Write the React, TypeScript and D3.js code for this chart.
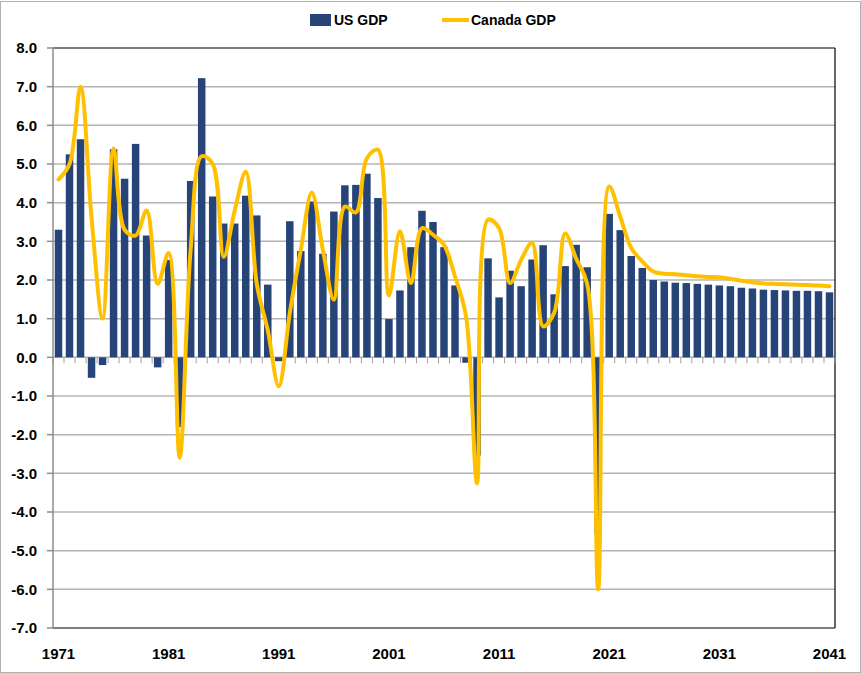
import React from "react";
import * as d3 from "d3";

// categories (years) and series
const years = [
  1971, 1972, 1973, 1974, 1975, 1976, 1977, 1978, 1979, 1980,
  1981, 1982, 1983, 1984, 1985, 1986, 1987, 1988, 1989, 1990,
  1991, 1992, 1993, 1994, 1995, 1996, 1997, 1998, 1999, 2000,
  2001, 2002, 2003, 2004, 2005, 2006, 2007, 2008, 2009, 2010,
  2011, 2012, 2013, 2014, 2015, 2016, 2017, 2018, 2019, 2020,
  2021, 2022, 2023, 2024, 2025, 2026, 2027, 2028, 2029, 2030,
  2031, 2032, 2033, 2034, 2035, 2036, 2037, 2038, 2039, 2040, 2041,
];

const usGdp = [
  3.3, 5.25, 5.64, -0.53, -0.2, 5.38, 4.62, 5.52, 3.15, -0.26,
  2.52, -1.8, 4.56, 7.22, 4.16, 3.46, 3.46, 4.18, 3.67, 1.88,
  -0.1, 3.52, 2.75, 4.03, 2.68, 3.77, 4.45, 4.46, 4.75, 4.12,
  0.99, 1.73, 2.85, 3.79, 3.5, 2.85, 1.86, -0.14, -2.54, 2.56,
  1.55, 2.24, 1.84, 2.53, 2.9, 1.63, 2.36, 2.91, 2.33, -4.58,
  3.71, 3.29, 2.62, 2.31, 2.0, 1.96, 1.93, 1.92, 1.9, 1.88,
  1.86, 1.84, 1.8, 1.78, 1.75, 1.74, 1.73, 1.72, 1.72, 1.71, 1.68,
];

const canadaGdp = [
  4.6, 5.0, 7.0, 3.6, 1.0, 5.4, 3.3, 3.15, 3.8, 1.9,
  2.7, -2.6, 2.8, 5.2, 5.0, 2.6, 3.8, 4.8, 1.9, 0.7,
  -0.75, 1.15, 2.78, 4.26, 2.78, 1.49, 3.9, 3.75, 5.15, 5.37,
  1.6, 3.26, 1.92, 3.34, 3.17, 2.91, 2.09, 1.06, -3.26, 3.56,
  3.34, 1.92, 2.52, 2.96, 0.8, 1.15, 3.2, 2.55, 1.9, -6.0,
  4.42, 3.64, 2.83, 2.48, 2.22, 2.16, 2.15, 2.12, 2.1, 2.08,
  2.07, 2.03, 1.98, 1.94, 1.91, 1.9, 1.89, 1.88, 1.87, 1.86, 1.84,
];

const yTicks = [8, 7, 6, 5, 4, 3, 2, 1, 0, -1, -2, -3, -4, -5, -6, -7];
const xLabels = [1971, 1981, 1991, 2001, 2011, 2021, 2031, 2041];

const W = 861;
const H = 673;
const margin = { top: 48, right: 26, bottom: 45, left: 53 };
const font = "'Liberation Sans', Arial, sans-serif";
const barColor = "#264478";
const lineColor = "#FFC000";

export default function App() {
  const x = d3
    .scaleBand<number>()
    .domain(years)
    .range([margin.left, W - margin.right])
    .paddingInner(0.32)
    .paddingOuter(0.16);
  const step = x.step();
  const left = margin.left;
  const right = W - margin.right;

  const y = d3.scaleLinear().domain([-7, 8]).range([H - margin.bottom, margin.top]);
  const cx = (yr: number) => (x(yr) as number) + x.bandwidth() / 2;

  // centripetal catmull-rom keeps the overshoot close to Excel's smoothed line
  const line = d3
    .line<number>()
    .x((_, i) => cx(years[i]))
    .y((d) => y(d))
    .curve(d3.curveCatmullRom.alpha(0.5));

  return (
    <svg
      width={W}
      height={H}
      style={{ position: "absolute", left: 0, top: 0, background: "#fff" }}
    >
      <rect x={0.5} y={1.5} width={W - 1} height={H - 2} fill="#fff" stroke="#b0b0b0" />

      {/* gridlines */}
      {yTicks.map((t) => (
        <line
          key={"g" + t}
          x1={left}
          x2={right}
          y1={y(t)}
          y2={y(t)}
          stroke={t === 8 || t === -7 ? "#000" : "#b4b4b4"}
          strokeWidth={t === 8 || t === -7 ? 1.2 : 1.5}
        />
      ))}
      <line x1={right} x2={right} y1={y(8)} y2={y(-7)} stroke="#000" strokeWidth={1.2} />

      {/* bars */}
      {years.map((yr, i) => (
        <rect
          key={"b" + yr}
          x={x(yr)}
          y={y(Math.max(0, usGdp[i]))}
          width={x.bandwidth()}
          height={Math.abs(y(usGdp[i]) - y(0))}
          fill={barColor}
        />
      ))}

      {/* category ticks under the zero line */}
      {d3.range(years.length + 1).map((i) => (
        <line
          key={"t" + i}
          x1={left + i * step}
          x2={left + i * step}
          y1={y(0)}
          y2={y(0) + 6}
          stroke="#a0a0a0"
          strokeWidth={1}
        />
      ))}

      {/* y axis */}
      <line x1={left} x2={left} y1={y(8)} y2={y(-7)} stroke="#8c8c8c" strokeWidth={1.5} />
      {yTicks.map((t) => (
        <g key={"y" + t}>
          <line x1={left - 6} x2={left} y1={y(t)} y2={y(t)} stroke="#8c8c8c" strokeWidth={1.5} />
          <text
            x={37}
            y={y(t)}
            dy="0.36em"
            textAnchor="end"
            fontFamily={font}
            fontWeight="bold"
            fontSize={15}
            fill="#000"
          >
            {t.toFixed(1)}
          </text>
        </g>
      ))}

      {/* x labels */}
      {xLabels.map((yr) => (
        <text
          key={"x" + yr}
          x={cx(yr)}
          y={659}
          textAnchor="middle"
          fontFamily={font}
          fontWeight="bold"
          fontSize={15}
          fill="#000"
        >
          {yr}
        </text>
      ))}

      {/* Canada line */}
      <path
        d={line(canadaGdp) || ""}
        fill="none"
        stroke={lineColor}
        strokeWidth={4}
        strokeLinejoin="round"
        strokeLinecap="round"
      />

      {/* legend */}
      <rect x={310} y={14} width={21} height={12} fill={barColor} />
      <text x={334} y={25} fontFamily={font} fontWeight="bold" fontSize={14} fill="#000">
        US GDP
      </text>
      <line x1={442} x2={469} y1={20} y2={20} stroke={lineColor} strokeWidth={4} />
      <text x={471} y={25} fontFamily={font} fontWeight="bold" fontSize={14} fill="#000">
        Canada GDP
      </text>
    </svg>
  );
}
